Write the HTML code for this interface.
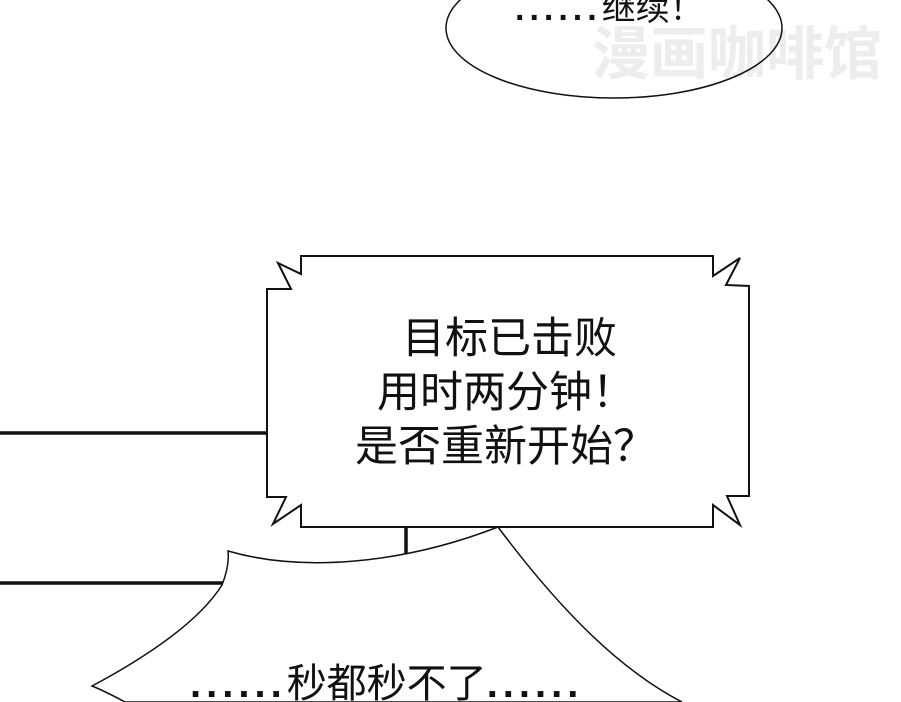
<!DOCTYPE html>
<html><head><meta charset="utf-8"><style>
html,body{margin:0;padding:0;background:#fff}
#c{position:relative;width:901px;height:702px;overflow:hidden;background:#fff}
.t{position:absolute;font-family:"Liberation Sans","Noto Sans CJK SC",sans-serif;color:#111;white-space:nowrap;line-height:1}
.d{letter-spacing:5px;font-weight:bold}
</style></head><body><div id="c">
<svg width="901" height="702" style="position:absolute;left:0;top:0">
<text x="592" y="74" font-family="Noto Sans CJK SC,sans-serif" font-size="58" font-weight="bold" fill="#ededed">漫画咖啡馆</text>
<ellipse cx="614" cy="28" rx="168" ry="70" fill="none" stroke="#111" stroke-width="1.5"/>
<line x1="0" y1="433" x2="268" y2="433" stroke="#111" stroke-width="3.5"/>
<line x1="0" y1="583" x2="224" y2="583" stroke="#111" stroke-width="3.5"/>
<line x1="406" y1="527" x2="406" y2="557" stroke="#111" stroke-width="3.5"/>
<path d="M228,551 C300,572 400,565 498,527 C560,610 620,670 682,702 L125,702 C112,695 102,690 92,686 C150,655 200,620 222,585 C228,570 229,560 228,551 Z" fill="#fff" stroke="#111" stroke-width="1.5"/>
<path d="M267,289 L291,289 L278,263 L301,274 L301,256 L713,256 L713,276 L740,258 L726,285 L749,286 L749,496 L727,496 L740,525 L713,505 L713,527 L301,527 L301,505 L273,524 L286,497 L267,497 Z" fill="#fff" stroke="#111" stroke-width="2"/>
</svg>
<div class="t" style="left:515px;top:-8px;font-size:34px"><span class="d">......</span>继续！</div>
<div class="t" style="left:402px;top:318px;font-size:43px">目标已击败</div>
<div class="t" style="left:377px;top:372px;font-size:43px">用时两分钟！</div>
<div class="t" style="left:355px;top:426px;font-size:43px">是否重新开始？</div>
<div class="t" style="left:190px;top:664px;font-size:40px"><span class="d">......</span>秒都秒不了<span class="d">......</span></div>
</div></body></html>
